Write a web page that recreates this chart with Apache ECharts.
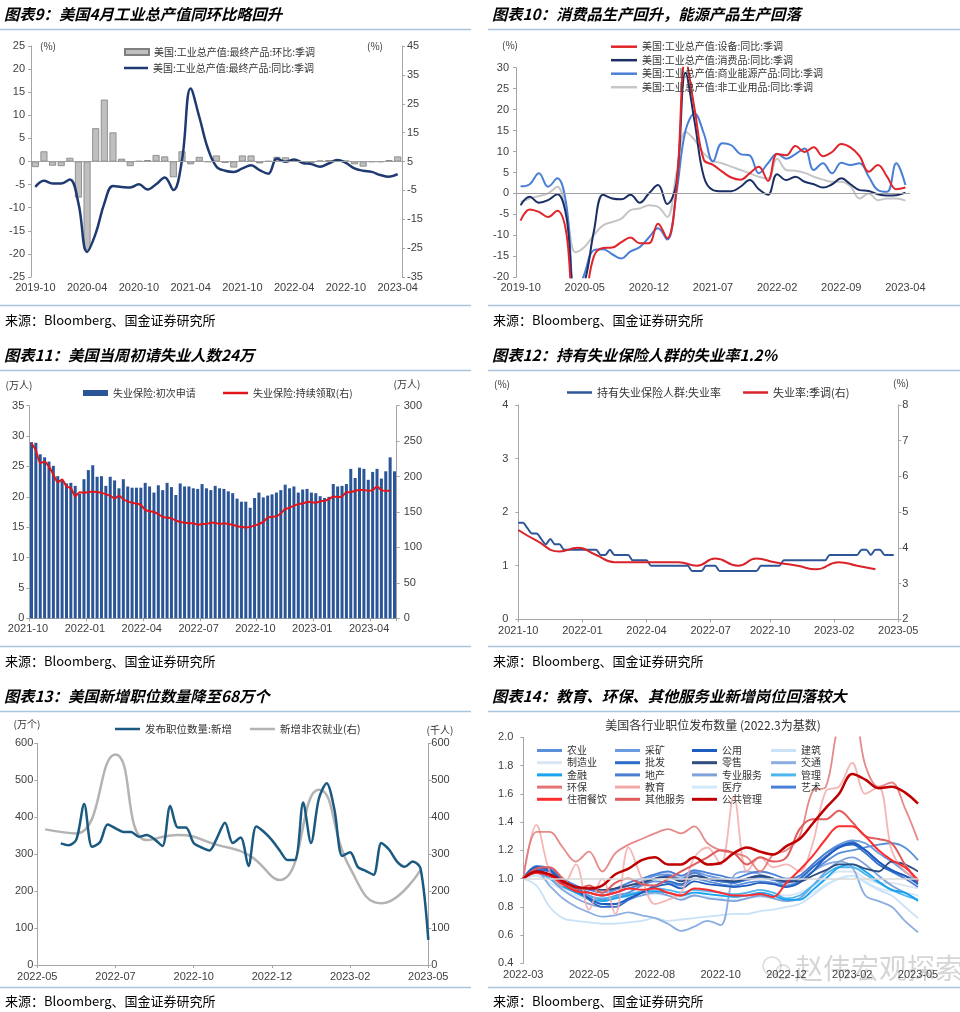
<!DOCTYPE html>
<html><head><meta charset="utf-8">
<script src="https://cdn.jsdelivr.net/npm/echarts@6/dist/echarts.min.js"></script>
<style>html,body{margin:0;padding:0;background:#fff}#c{width:960px;height:1012px}</style>
</head><body><div id="c"></div>
<script>
// ---------- helpers for categories ----------
function monthRange(a, b){const out=[];let [y,m]=a.split('-').map(Number);const [yb,mb]=b.split('-').map(Number);while(y<yb||(y===yb&&m<=mb)){out.push(y+'-'+String(m).padStart(2,'0'));m++;if(m>12){m=1;y++;}}return out;}
function dayRange(start,n,step){const out=[];const t0=Date.parse(start+'T00:00:00Z');for(let i=0;i<n;i++){out.push(new Date(t0+i*step*86400000).toISOString().slice(0,10));}return out;}
function placeByDate(cats,dates,values){const t0=Date.parse(cats[0]+'T00:00:00Z');const step=Date.parse(cats[1]+'T00:00:00Z')-t0;const arr=cats.map(()=>null);dates.forEach((d,i)=>{const idx=Math.round((Date.parse(d+'T00:00:00Z')-t0)/step);if(idx>=0&&idx<cats.length)arr[idx]=values[i];});return arr;}
function nextMonthFirst(m){let [y,mm]=m.split('-').map(Number);mm++;if(mm>12){mm=1;y++;}return y+'-'+String(mm).padStart(2,'0')+'-01';}

// ---------- Panel 1 data ----------
const p1Months = monthRange('2019-10','2023-04');
const p1MoM = [-1.2,2.2,-0.9,-1.0,0.8,-7.8,-19.1,7.2,13.4,6.3,0.6,-1.0,0.1,0.3,1.4,1.1,-3.4,2.2,-0.6,1.0,-0.1,1.3,-0.3,-1.3,1.3,1.3,-0.4,0.1,1.0,0.9,0.2,-0.2,-0.3,0.2,0.3,0.2,0.2,-0.6,-1.1,-0.1,-0.1,0.3,1.1];
const p1YoY = [-3.8,-1.7,-2.6,-2.6,-1.2,-9.5,-26.3,-19.9,-9.5,-3.5,-3.8,-4.0,-2.9,-4.7,-2.9,-0.5,-4.9,5.5,30.3,20.5,9.5,3.2,1.8,1.4,2.6,3.7,2.0,0.8,6.0,4.9,5.7,4.5,4.1,3.2,4.3,5.5,4.5,2.6,1.8,1.4,0.3,-0.3,0.6];

// ---------- Panel 2 data ----------
const p2Months = monthRange('2019-10','2023-04');
const p2Equip = [-6.5,-3.8,-4.4,-5.6,-4.1,-9.5,-32,-26,-15,-13,-12.9,-11.6,-10.5,-11.9,-11.9,-7.2,-10.7,0.8,32,20,8,6.8,5.2,3.8,3.3,4.8,6.4,3.0,9.4,9.1,11.3,9.9,11.0,8.9,9.9,11.8,11.0,8.9,5.2,6.8,4.0,1.0,1.4];
const p2Consumer = [-2.8,-0.8,-2.2,-1.6,-0.2,-5.6,-25,-21,-9,-0.3,-1.2,-1.4,-0.3,-2.2,0,2.0,-2.5,2.4,28.8,17,4,0.8,0.5,0.5,1.6,3.2,1.0,-0.3,4.6,3.2,4.0,2.8,2.2,1.4,2.2,3.6,2.2,0.8,0.6,-0.2,-0.5,-0.4,0.2];
const p2Energy = [1.7,2.2,4.8,1.6,3.6,-2.8,-25,-19,-13.5,-13.3,-14.5,-15.5,-13.8,-12.8,-10.5,-8.3,-11,0,15,19,14.3,7.6,12,11.5,9.4,9.1,4.8,7.2,9.5,8.3,9.4,10.7,5.6,7.2,4.8,7.3,6.8,7.2,4.0,0.8,0.4,7.2,2.0];
const p2NonInd = [-2.0,-1.2,-0.6,0,1.6,-4.4,-14,-12.7,-9.9,-7.6,-6.8,-6.0,-4.0,-3.6,-2.8,-3.2,-5.6,4.8,14.7,12.7,9.5,7.8,7.2,6.4,5.6,4.8,4.0,3.6,8.3,5.6,5.4,4.9,4.0,3.3,2.8,2.8,1.7,-1.2,0,-1.6,-1.2,-1.2,-1.7];

// ---------- Panel 3 data ----------
const p3Weeks = dayRange('2021-10-03',84,7);
const p3Initial = [29.0,28.9,27.0,26.5,25.8,25.1,23.4,22.6,22.2,22.3,21.8,20.5,22.9,24.4,25.2,23.3,23.4,21.8,23.3,22.7,21.4,22.9,21.7,21.5,21.5,21.5,22.3,21.7,20.7,21.9,21.1,22.3,21.6,20.3,22.2,21.7,21.7,21.4,21.3,22.1,21.4,21.1,21.8,21.4,21.3,20.9,20.6,19.7,19.2,19.2,18.2,19.8,20.7,19.9,20.2,20.4,20.7,21.1,22.0,21.4,21.7,20.7,21.2,21.3,20.7,20.6,20.1,19.8,20.0,22.1,21.7,21.8,22.1,24.6,23.1,24.8,24.6,22.8,24.1,24.6,23.0,24.2,26.5,24.2];
const p3Continuing = [247,237,219,221,214,203,192,196,186,184,172,178,177,178,179,178,177,175,173,169,173,168,165,163,162,160,153,151,150,147,143,142,141,138,136,135,134,134,132,133,133,135,135,133,134,133,132,130,129,128,129,131,133,136,142,143,144,148,154,156,159,161,162,164,164,163,165,166,168,172,171,172,178,178,180,181,181,180,181,186,181,180,180,null];

// ---------- Panel 4 data ----------
const p4Weeks = dayRange('2021-10-02',84,7);
const p4Ticks = ['2021-10','2022-01','2022-04','2022-07','2022-10','2023-02','2023-05'];
const p4Insured = [1.8,1.8,1.7,1.6,1.6,1.5,1.4,1.5,1.4,1.4,1.3,1.3,1.3,1.3,1.3,1.3,1.3,1.3,1.2,1.2,1.3,1.2,1.2,1.2,1.2,1.1,1.1,1.1,1.1,1.0,1.0,1.0,1.0,1.0,1.0,1.0,1.0,1.0,0.9,0.9,0.9,1.0,1.0,1.0,0.9,0.9,0.9,0.9,0.9,0.9,0.9,0.9,0.9,1.0,1.0,1.0,1.0,1.0,1.1,1.1,1.1,1.1,1.1,1.1,1.1,1.1,1.1,1.1,1.2,1.2,1.2,1.2,1.2,1.2,1.2,1.3,1.3,1.2,1.3,1.3,1.2,1.2,1.2];
const p4URMonths = monthRange('2021-10','2023-04');
const p4UR = [4.5,4.2,3.9,4.0,3.8,3.6,3.6,3.6,3.6,3.5,3.7,3.5,3.7,3.6,3.5,3.4,3.6,3.5,3.4];

// ---------- Panel 5 data ----------
const p5Weeks = dayRange('2022-05-26',51,7);
const p5Ticks = ['2022-05','2022-07','2022-10','2022-12','2023-02','2023-05'];
const p5JobsStart = '2022-06-16';
const p5Jobs = [329,324,340,436,320,332,380,370,360,360,347,352,340,322,430,372,372,330,318,310,345,385,330,345,268,375,360,338,310,284,285,440,330,450,492,420,295,305,265,255,244,330,312,280,266,280,262,68];
const p5NFPMonths = monthRange('2022-05','2023-04');
const p5NFP = [367,356,570,338,352,325,298,230,474,262,167,257];

// ---------- Panel 6 data (index, 2022.3 = 1) ----------
const p6Dates = dayRange('2022-03-01',31,14);
const p6Ticks = ['2022-03','2022-05','2022-08','2022-10','2022-12','2023-02','2023-05'];
const p6Agri    = [1.00,1.08,1.05,0.98,0.92,0.88,0.85,0.88,0.90,0.95,0.98,0.97,0.95,1.00,0.98,0.96,0.95,0.97,0.98,0.97,0.95,0.98,1.05,1.12,1.18,1.20,1.22,1.24,1.25,1.22,1.13];
const p6Mining  = [1.00,1.07,1.06,1.00,0.94,0.90,0.88,0.92,0.95,0.98,1.02,1.03,1.00,1.05,1.02,1.00,0.98,1.00,1.02,1.00,0.98,1.02,1.10,1.18,1.24,1.27,1.25,1.18,1.12,1.05,0.98];
const p6Util    = [1.00,1.08,1.06,0.98,0.92,0.86,0.82,0.82,0.86,0.90,0.94,0.96,0.93,0.98,0.96,0.95,0.94,0.95,0.97,0.96,0.94,0.97,1.05,1.15,1.22,1.25,1.20,1.12,1.06,1.02,0.97];
const p6Constr  = [1.00,0.95,0.80,0.72,0.70,0.69,0.68,0.68,0.69,0.70,0.72,0.70,0.71,0.72,0.73,0.74,0.75,0.75,0.77,0.78,0.80,0.82,0.88,0.95,1.00,1.02,0.97,0.92,0.88,0.80,0.72];
const p6Manuf   = [1.00,1.05,1.00,0.92,0.88,0.85,0.84,0.86,0.88,0.90,0.92,0.90,0.88,0.90,0.92,0.90,0.88,0.90,0.92,0.90,0.88,0.90,0.95,1.00,1.05,1.05,1.00,0.97,0.97,0.95,0.93];
const p6Whole   = [1.00,1.06,1.05,0.98,0.92,0.85,0.80,0.80,0.85,0.90,0.95,0.98,0.96,1.02,1.00,0.98,0.97,1.00,1.02,1.00,0.98,1.00,1.08,1.15,1.22,1.24,1.18,1.10,1.05,1.02,0.96];
const p6Retail  = [1.00,1.05,1.03,0.97,0.94,0.93,0.92,0.93,0.95,0.97,1.00,1.01,0.98,1.02,1.00,0.99,0.98,1.00,1.02,1.00,0.98,0.98,1.02,1.06,1.10,1.10,1.07,1.05,1.12,1.10,1.05];
const p6Trans   = [1.00,1.05,0.95,0.86,0.80,0.76,0.73,0.74,0.76,0.74,0.72,0.68,0.63,0.66,0.70,0.67,1.02,1.05,1.03,1.00,0.95,0.98,1.05,1.10,1.12,1.08,0.88,0.84,0.80,0.70,0.62];
const p6Fin     = [1.00,1.05,1.02,0.95,0.90,0.86,0.84,0.86,0.88,0.90,0.91,0.90,0.88,0.90,0.89,0.88,0.87,0.88,0.90,0.88,0.85,0.85,0.92,1.00,1.08,1.10,1.05,0.98,0.92,0.90,0.84];
const p6RealEst = [1.00,1.07,1.05,0.98,0.93,0.90,0.88,0.90,0.93,0.96,1.00,1.02,0.99,1.04,1.00,0.98,0.97,0.99,1.01,0.99,0.97,1.00,1.08,1.16,1.22,1.26,1.20,1.12,1.05,1.00,0.94];
const p6Prof    = [1.00,1.06,1.00,0.92,0.86,0.82,0.80,0.82,0.85,0.88,0.90,0.88,0.85,0.88,0.86,0.85,0.84,0.86,0.88,0.86,0.84,0.86,0.95,1.05,1.12,1.15,1.10,1.02,0.95,0.90,0.85];
const p6Admin   = [1.00,1.04,1.00,0.94,0.90,0.87,0.86,0.87,0.89,0.91,0.93,0.92,0.90,0.92,0.91,0.90,0.89,0.90,0.92,0.90,0.86,0.88,0.95,1.03,1.08,1.08,1.03,0.97,0.92,0.88,0.85];
const p6Health  = [1.00,1.02,0.97,0.92,0.88,0.86,0.85,0.86,0.87,0.88,0.89,0.88,0.87,0.88,0.87,0.86,0.85,0.86,0.87,0.86,0.85,0.86,0.90,0.96,1.00,1.02,0.98,0.93,0.91,0.90,0.88];
const p6Arts    = [1.00,1.09,1.07,1.00,0.95,0.92,0.90,0.93,0.97,1.00,1.03,1.05,1.02,1.06,1.04,1.02,1.00,1.03,1.05,1.03,1.00,1.02,1.10,1.18,1.23,1.25,1.20,1.12,1.06,1.02,0.98];
const p6Env     = [1.00,1.33,1.33,1.22,1.12,1.19,1.05,1.18,1.24,1.28,1.32,1.35,1.32,1.37,1.25,1.20,1.18,1.15,1.05,1.17,1.20,1.30,1.62,1.65,2.10,2.20,1.80,1.65,1.68,1.50,1.27];
const p6Edu     = [1.00,1.38,1.05,0.95,1.10,0.78,1.00,0.75,1.22,1.00,0.82,0.85,0.90,1.15,1.22,1.10,1.58,1.05,1.15,1.08,1.10,1.05,1.25,1.62,1.65,1.82,1.60,1.65,1.20,1.05,1.00];
const p6Hosp    = [1.00,1.04,1.02,0.96,0.91,0.90,0.88,0.90,0.93,0.92,0.93,0.90,0.88,0.93,0.92,0.90,0.88,0.88,0.89,0.87,0.97,1.06,1.16,1.28,1.37,1.37,1.30,1.20,1.13,1.08,0.99];
const p6Other   = [1.00,1.07,1.08,1.00,0.92,0.95,0.90,0.97,1.00,0.96,0.95,1.00,1.05,1.10,1.15,1.20,1.18,1.10,1.15,1.12,1.15,1.35,1.42,1.42,1.48,1.40,1.30,1.28,1.25,1.10,0.98];
const p6PubAdm  = [1.00,1.05,1.03,0.98,0.94,0.93,0.95,1.03,1.07,1.13,1.15,1.10,1.10,1.15,1.10,1.11,1.18,1.22,1.19,1.17,1.23,1.28,1.39,1.50,1.60,1.74,1.70,1.64,1.65,1.61,1.53];

// ---------- styling constants ----------
const AX='#a6a6a6', LB='#404040', TXT='#333';
const FONT='"Liberation Sans", Arial, sans-serif';
const CJK='"Noto Sans CJK SC", "Noto Sans", sans-serif';

function spread(n, labels){const idx=labels.map((_,k)=>Math.round(k*(n-1)/(labels.length-1)));return {interval:(i)=>idx.indexOf(i)>=0, formatter:(v,i)=>{const k=idx.indexOf(i);return k>=0?labels[k]:'';}};}
function yAx(grid,min,max,interval,pos,margin,extra){return Object.assign({type:'value',gridIndex:grid,min,max,interval,position:pos,
  axisLine:{show:true,lineStyle:{color:AX,width:1}},axisTick:{show:true,inside:false,length:3,lineStyle:{color:AX}},
  axisLabel:{color:LB,fontSize:11,fontFamily:FONT,margin},splitLine:{show:false}},extra||{});}
function xCat(grid,data,opts){return Object.assign({type:'category',gridIndex:grid,data,position:'bottom',
  axisLine:{show:true,onZero:false,lineStyle:{color:AX}},axisTick:{show:false},
  axisLabel:{color:LB,fontSize:11,fontFamily:FONT,margin:5,showMaxLabel:true,showMinLabel:true},splitLine:{show:false}},opts||{});}
function line(name,xi,yi,data,color,width,extra){return Object.assign({type:'line',name,xAxisIndex:xi,yAxisIndex:yi,data,symbol:'none',smooth:0.4,
  lineStyle:{color,width},itemStyle:{color},emphasis:{disabled:true}},extra||{});}
const zeroLine={silent:true,symbol:'none',label:{show:false},lineStyle:{color:'#a0a0a0',width:1,type:'solid'},data:[{yAxis:0}]};

const N1a='美国:工业总产值:最终产品:环比:季调', N1b='美国:工业总产值:最终产品:同比:季调';
const N2=['美国:工业总产值:设备:同比:季调','美国:工业总产值:消费品:同比:季调','美国:工业总产值:商业能源产品:同比:季调','美国:工业总产值:非工业用品:同比:季调'];
const N3a='失业保险:初次申请', N3b='失业保险:持续领取(右)';
const N4a='持有失业保险人群:失业率', N4b='失业率:季调(右)';
const N5a='发布职位数量:新增', N5b='新增非农就业(右)';

const p4Red = placeByDate(p4Weeks, p4URMonths.map(m=>m+'-01'), p4UR);
const p5Blue = placeByDate(p5Weeks, dayRange(p5JobsStart,p5Jobs.length,7), p5Jobs);
const p5Gray = placeByDate(p5Weeks, p5NFPMonths.map(nextMonthFirst), p5NFP);

const p6Series = [
 ['建筑',p6Constr,'#c9e2f8',1.8],['制造业',p6Manuf,'#dbe6f3',1.8],['医疗',p6Health,'#d0e9f8',1.8],
 ['交通',p6Trans,'#8caee0',1.8],['专业服务',p6Prof,'#7fa2da',1.8],['农业',p6Agri,'#5b8fd8',1.8],
 ['采矿',p6Mining,'#6b9ae0',1.8],['地产',p6RealEst,'#4a7dd0',1.8],['艺术',p6Arts,'#4a7fd8',1.8],
 ['管理',p6Admin,'#4fb5ef',1.8],['金融',p6Fin,'#17a3ee',1.8],['批发',p6Whole,'#2e6ccc',1.8],
 ['公用',p6Util,'#1f5cc0',1.8],['零售',p6Retail,'#2f4d7e',1.8],
 ['教育',p6Edu,'#f2a9a9',1.8],['环保',p6Env,'#e27474',1.8],['其他服务',p6Other,'#e05c5c',2],
 ['住宿餐饮',p6Hosp,'#ff2e2e',2],['公共管理',p6PubAdm,'#c00000',2.5]
];

const series=[
  {type:'bar',name:N1a,xAxisIndex:0,yAxisIndex:0,data:p1MoM,barWidth:7,itemStyle:{color:'#bfbfbf',borderColor:'#7f7f7f',borderWidth:0.8},markLine:zeroLine},
  line(N1b,0,1,p1YoY,'#1f3a70',2.5),
  line(N2[3],1,2,p2NonInd,'#c6c6c6',2,{markLine:zeroLine}),
  line(N2[2],1,2,p2Energy,'#4a7fd6',2),
  line(N2[1],1,2,p2Consumer,'#1b2f66',2),
  line(N2[0],1,2,p2Equip,'#e0242a',2),
  {type:'bar',name:N3a,xAxisIndex:2,yAxisIndex:3,data:p3Initial,barWidth:3,itemStyle:{color:'#2a5597'}},
  line(N3b,2,4,p3Continuing,'#e3151a',2,{smooth:0.2}),
  line(N4a,3,5,p4Insured,'#2e5597',2,{smooth:0.25}),
  line(N4b,3,6,p4Red,'#d9232a',2,{connectNulls:true,smooth:0.5}),
  line(N5b,4,8,p5Gray,'#b3b3b3',2.5,{connectNulls:true,smooth:0.5}),
  line(N5a,4,7,p5Blue,'#1b5a80',2.5,{smooth:0.3}),
];
p6Series.forEach((s,i)=>{
  const extra = {smooth:0.35, lineStyle:{color:s[2],width:s[3],opacity:(s[0]==='教育'||s[0]==='环保')?0.85:1}};
  if(i===0) extra.markLine={silent:true,symbol:'none',label:{show:false},lineStyle:{color:'#d9d9d9',width:1.5,type:'solid'},data:[{yAxis:1}]};
  series.push(line(s[0],5,9,s[1],s[2],s[3],extra));
});

const p4s=spread(p4Weeks.length,p4Ticks), p5s=spread(p5Weeks.length,p5Ticks), p6s=spread(p6Dates.length,p6Ticks);

const legText={color:TXT,fontSize:10,fontFamily:CJK,lineHeight:12};
function leg(o){return Object.assign({itemWidth:25,itemHeight:2.5,icon:'rect',textStyle:legText,selectedMode:false},o);}
const legends=[
  leg({orient:'vertical',left:119,top:41,itemWidth:24,itemHeight:6,data:[N1a]}),
  leg({orient:'vertical',left:119,top:57,itemWidth:24,data:[N1b]}),
  leg({orient:'vertical',left:606,top:35.7,itemWidth:26,itemGap:1.5,data:N2}),
  leg({orient:'horizontal',left:78,top:382,itemHeight:6,data:[N3a]}),
  leg({orient:'horizontal',left:218,top:382,data:[N3b]}),
  leg({orient:'horizontal',left:562,top:381,itemGap:22,textStyle:Object.assign({},legText,{fontSize:11,lineHeight:13}),data:[N4a,N4b]}),
  leg({orient:'horizontal',left:110,top:718,itemGap:18,textStyle:Object.assign({},legText,{fontSize:10.5,lineHeight:12}),data:[N5a,N5b]}),
];
[['农业','制造业','金融','环保','住宿餐饮'],['采矿','批发','地产','教育','其他服务'],['公用','零售','专业服务','医疗','公共管理'],['建筑','交通','管理','艺术']]
 .forEach((col,k)=>legends.push(leg({orient:'vertical',left:[532,610,687,766][k],top:739.5,itemHeight:3,itemGap:0.2,data:col})));

// ---------- page furniture ----------
const titles=[
  ['图表9：美国4月工业总产值同环比略回升',4,14],['图表10：消费品生产回升，能源产品生产回落',492,14],
  ['图表11：美国当周初请失业人数24万',4,355],['图表12：持有失业保险人群的失业率1.2%',492,355],
  ['图表13：美国新增职位数量降至68万个',4,696],['图表14：教育、环保、其他服务业新增岗位回落较大',492,696]];
const graphics=[];
titles.forEach(t=>graphics.push({type:'text',x:t[1],y:t[2],style:{text:t[0],fill:'#000',font:'italic bold 15.3px "Noto Sans CJK SC"',verticalAlign:'middle',align:'left'}}));
[29.5,370.5,711.5,305.5,646.5,987.5].forEach(y=>{
  graphics.push({type:'line',shape:{x1:0,y1:y,x2:471,y2:y},style:{stroke:'#a9c4de',lineWidth:1.5}});
  graphics.push({type:'line',shape:{x1:488,y1:y,x2:960,y2:y},style:{stroke:'#a9c4de',lineWidth:1.5}});
});
[[5,320],[493,320],[5,661],[493,661],[5,1001],[493,1001]].forEach(p=>graphics.push({type:'text',x:p[0],y:p[1],style:{text:'来源：Bloomberg、国金证券研究所',fill:'#000',font:'13px "Noto Sans CJK SC"',verticalAlign:'middle'}}));
[['(%)',48,46],['(%)',375,46],['(%)',510,45],['(万人)',19,385],['(万人)',407,384],['(%)',502,384],['(%)',901,383],['(万个)',27,724],['(千人)',440,730]]
 .forEach(u=>graphics.push({type:'text',x:u[1],y:u[2],style:{text:u[0],fill:TXT,font:'10px "Noto Sans CJK SC"',align:'center',verticalAlign:'middle'}}));
graphics.push({type:'text',x:713,y:725,style:{text:'美国各行业职位发布数量 (2022.3为基数)',fill:TXT,font:'12px "Noto Sans CJK SC"',align:'center',verticalAlign:'middle'}});
graphics.push({type:'circle',shape:{cx:772,cy:966,r:9},style:{fill:'none',stroke:'rgba(160,160,160,0.4)',lineWidth:1.5}});
graphics.push({type:'circle',shape:{cx:783,cy:972,r:7},style:{fill:'none',stroke:'rgba(160,160,160,0.4)',lineWidth:1.5}});
graphics.push({type:'text',x:795,y:968,style:{text:'赵伟宏观探索',fill:'rgba(150,150,150,0.4)',font:'28px "Noto Sans CJK SC"',verticalAlign:'middle'}});

const option={
  animation:false,backgroundColor:'#fff',
  textStyle:{fontFamily:FONT},
  grid:[
    {left:31,top:46,width:371,height:231},
    {left:516,top:67.7,width:394,height:209.6},
    {left:29.3,top:405.7,width:367.4,height:212.6},
    {left:518.3,top:405,width:380,height:214.3},
    {left:37.3,top:743.3,width:391,height:221.7},
    {left:523.3,top:737.3,width:394.7,height:226}
  ],
  xAxis:[
    xCat(0,p1Months,{axisLine:{show:false},axisLabel:{color:LB,fontSize:11,fontFamily:FONT,margin:5,interval:5}}),
    xCat(1,p2Months,{axisLine:{show:false},axisLabel:{color:LB,fontSize:11,fontFamily:FONT,margin:5,interval:6}}),
    xCat(2,p3Weeks,{axisTick:{show:true,interval:12,length:3,lineStyle:{color:AX}},axisLabel:{color:LB,fontSize:11,fontFamily:FONT,margin:5,interval:12,padding:[0,7,0,0],formatter:v=>v.slice(0,7)}}),
    xCat(3,p4Weeks,{boundaryGap:false,axisTick:{show:true,interval:p4s.interval,length:3,lineStyle:{color:AX}},axisLabel:{color:LB,fontSize:11,fontFamily:FONT,margin:6,interval:p4s.interval,formatter:p4s.formatter}}),
    xCat(4,p5Weeks,{boundaryGap:false,axisTick:{show:true,interval:p5s.interval,length:3,lineStyle:{color:AX}},axisLabel:{color:LB,fontSize:11,fontFamily:FONT,margin:6,interval:p5s.interval,formatter:p5s.formatter}}),
    xCat(5,p6Dates,{boundaryGap:false,axisLine:{show:false},axisLabel:{color:LB,fontSize:11,fontFamily:FONT,margin:6,interval:p6s.interval,formatter:p6s.formatter}})
  ],
  yAxis:[
    yAx(0,-25,25,5,'left',6),
    yAx(0,-35,45,10,'right',5),
    yAx(1,-20,30,5,'left',7),
    yAx(2,0,35,5,'left',5),
    yAx(2,0,300,50,'right',7),
    yAx(3,0,4,1,'left',10),
    yAx(3,2,8,1,'right',4),
    yAx(4,0,600,100,'left',4),
    yAx(4,0,600,100,'right',3),
    yAx(5,0.4,2.0,0.2,'left',10,{axisLabel:{color:LB,fontSize:11,fontFamily:FONT,margin:10,formatter:v=>v.toFixed(1)}})
  ],
  legend:legends,
  series,
  graphic:graphics
};
const chart=echarts.init(document.getElementById('c'),null,{renderer:'canvas',width:960,height:1012});
chart.setOption(option);
</script></body></html>
